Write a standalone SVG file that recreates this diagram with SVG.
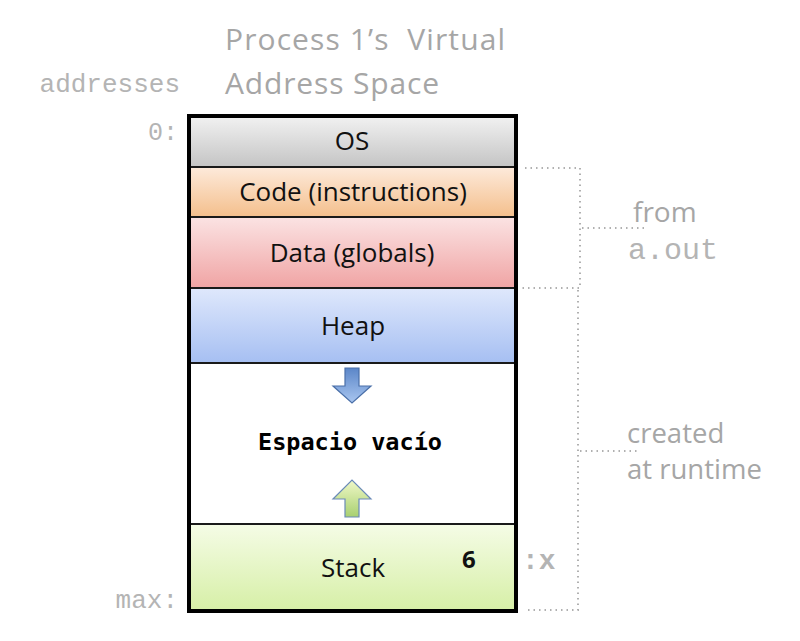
<svg xmlns="http://www.w3.org/2000/svg" width="800" height="641" viewBox="0 0 800 641">
<defs>
<linearGradient id="gOS" x1="0" y1="0" x2="0" y2="1"><stop offset="0" stop-color="#f2f2f2"/><stop offset="1" stop-color="#c4c4c4"/></linearGradient>
<linearGradient id="gCode" x1="0" y1="0" x2="0" y2="1"><stop offset="0" stop-color="#fdeadb"/><stop offset="1" stop-color="#f4bf8c"/></linearGradient>
<linearGradient id="gData" x1="0" y1="0" x2="0" y2="1"><stop offset="0" stop-color="#fbe3e3"/><stop offset="1" stop-color="#f0a4a4"/></linearGradient>
<linearGradient id="gHeap" x1="0" y1="0" x2="0" y2="1"><stop offset="0" stop-color="#dfe8fc"/><stop offset="1" stop-color="#a6bff2"/></linearGradient>
<linearGradient id="gStack" x1="0" y1="0" x2="0" y2="1"><stop offset="0" stop-color="#f5fce6"/><stop offset="1" stop-color="#d6efa6"/></linearGradient>
<linearGradient id="gDown" x1="0" y1="0" x2="0" y2="1"><stop offset="0" stop-color="#5b86c8"/><stop offset="1" stop-color="#a9c6f0"/></linearGradient>
<linearGradient id="gUp" x1="0" y1="0" x2="0" y2="1"><stop offset="0" stop-color="#f0f8c8"/><stop offset="1" stop-color="#a8d070"/></linearGradient>
</defs>
<style>
.seg{stroke:#1a1a1a;stroke-width:2}
.lbl{font-family:"Open Sans","Liberation Sans",sans-serif;font-size:26px;fill:#111;text-anchor:middle}
.gray{font-family:"Open Sans","Liberation Sans",sans-serif;fill:#a6a6a6}
.mono{font-family:"Liberation Mono","DejaVu Sans Mono",monospace;fill:#b4b4b4}
.dot{fill:none;stroke:#b0b0b0;stroke-width:2;stroke-dasharray:1.5 4}
</style>
<text class="gray" x="225" y="50" font-size="30" textLength="280" xml:space="preserve">Process 1’s  Virtual</text>
<text class="gray" x="225" y="94" font-size="30" textLength="214">Address Space</text>
<text class="mono" x="180" y="92" font-size="26" text-anchor="end">addresses</text>
<text class="mono" x="178" y="140" font-size="25" text-anchor="end">0:</text>
<text class="mono" x="178" y="608" font-size="26" text-anchor="end">max:</text>

<g id="os"><rect class="seg" x="189" y="116" width="327" height="51" fill="url(#gOS)"/><text class="lbl" x="352" y="150">OS</text></g>
<g id="code"><rect class="seg" x="189" y="167" width="327" height="50" fill="url(#gCode)"/><text class="lbl" x="353" y="201">Code (instructions)</text></g>
<g id="data"><rect class="seg" x="189" y="217" width="327" height="71" fill="url(#gData)"/><text class="lbl" x="352" y="262">Data (globals)</text></g>
<g id="heap"><rect class="seg" x="189" y="288" width="327" height="75" fill="url(#gHeap)"/><text class="lbl" x="353" y="335">Heap</text></g>
<g id="empty"><rect class="seg" x="189" y="363" width="327" height="161" fill="#ffffff"/>
<text x="350" y="450" font-family="'DejaVu Sans Mono',monospace" font-weight="bold" font-size="23.5" fill="#000" text-anchor="middle">Espacio vacío</text>
<path d="M345,368 H359 V386 H371 L352,403 L333,386 H345 Z" fill="url(#gDown)" stroke="#4a6fa8" stroke-width="1.2"/>
<path d="M345,517 H359 V499 H371 L352,480 L333,499 H345 Z" fill="url(#gUp)" stroke="#6a8ab8" stroke-width="1.2"/>
</g>
<g id="stack"><rect class="seg" x="189" y="524" width="327" height="87" fill="url(#gStack)"/><text class="lbl" x="353" y="577">Stack</text>
<text x="462" y="568" font-family="'Open Sans','Liberation Sans',sans-serif" font-weight="bold" font-size="24" fill="#111">6</text></g>
<rect x="189" y="116" width="327" height="495" fill="none" stroke="#000" stroke-width="4"/>

<g id="connectors">
<path class="dot" d="M525,168 H580 V288 H520"/>
<path class="dot" d="M582,228 H648"/>
<path class="dot" d="M578,290 V610 H525"/>
<path class="dot" d="M580,451 H640"/>
</g>
<text class="gray" x="633" y="222" font-size="28">from</text>
<text class="mono" x="628" y="259" font-size="30">a.out</text>
<text class="gray" x="627" y="443" font-size="27.5">created</text>
<text class="gray" x="627" y="479" font-size="27.5">at runtime</text>
<text class="mono" x="522" y="569" font-size="28" font-weight="bold" fill="#a0a0a0">:x</text>
</svg>
